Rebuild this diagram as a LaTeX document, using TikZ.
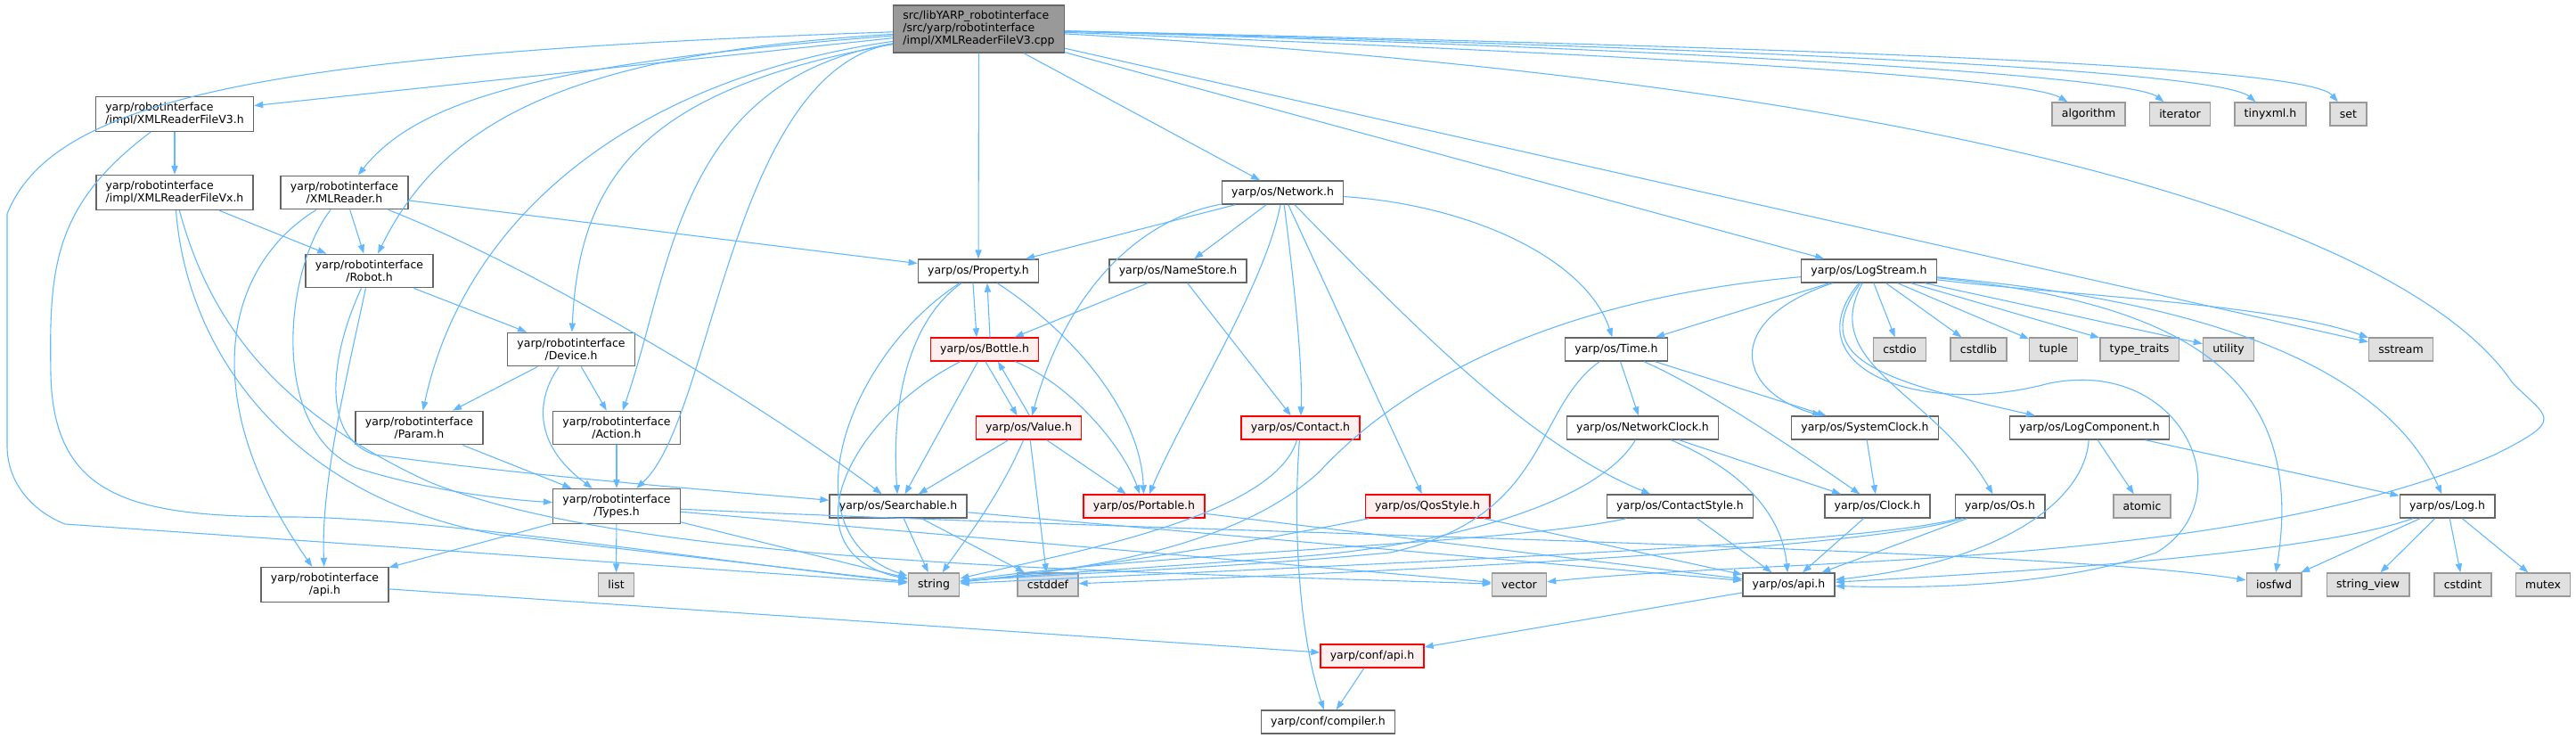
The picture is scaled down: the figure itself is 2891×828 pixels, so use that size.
\documentclass[tikz,border=0pt]{standalone}
\usepackage{fontspec}
\setsansfont{DejaVu Sans}
\usetikzlibrary{arrows.meta}
\definecolor{edgeblue}{HTML}{63B8FF}
\definecolor{boxgray}{HTML}{666666}
\definecolor{sysgray}{HTML}{999999}
\definecolor{sysfill}{HTML}{E0E0E0}
\definecolor{redfill}{HTML}{FFF0F0}

\begin{document}
\begin{tikzpicture}[x=0.5pt,y=-0.5pt,
  hfile/.style={draw=boxgray,fill=white,line width=0.7pt,inner xsep=5.4pt,inner ysep=3.2pt,
    minimum height=13pt,font=\sffamily\fontsize{6.25}{7}\selectfont,align=center},
  sysfile/.style={hfile,draw=sysgray,fill=sysfill},
  redfile/.style={hfile,draw=red,fill=redfill},
  rootfile/.style={hfile,fill=sysgray,align=left},
  dep/.style={draw=edgeblue,line width=0.55pt,-{Triangle[length=5pt,width=3.6pt]}}]
  \useasboundingbox (0,0) rectangle (2891,828);

  % robotinterface side
  \node[rootfile] (root) at (1098.5,32.5) {src/libYARP\_robotinterface\\/src/yarp/robotinterface\\/impl/XMLReaderFileV3.cpp};
  \node[hfile,align=left] (V3) at (196,128) {yarp/robotinterface\\/impl/XMLReaderFileV3.h};
  \node[hfile,align=left] (Vx) at (196,216) {yarp/robotinterface\\/impl/XMLReaderFileVx.h};
  \node[hfile] (XMLReader) at (386.5,216) {yarp/robotinterface\\/XMLReader.h};
  \node[hfile] (Robot) at (414.5,304) {yarp/robotinterface\\/Robot.h};
  \node[hfile] (Device) at (641,392) {yarp/robotinterface\\/Device.h};
  \node[hfile] (Param) at (470.5,480) {yarp/robotinterface\\/Param.h};
  \node[hfile] (Action) at (692,480) {yarp/robotinterface\\/Action.h};
  \node[hfile] (Types) at (692,568) {yarp/robotinterface\\/Types.h};
  \node[hfile] (riapi) at (364.5,656) {yarp/robotinterface\\/api.h};
  \node[sysfile] (list) at (691.5,656) {list};

  % yarp/os side
  \node[hfile] (Network) at (1439.5,216) {yarp/os/Network.h};
  \node[hfile] (Property) at (1098,304) {yarp/os/Property.h};
  \node[hfile] (NameStore) at (1322,304) {yarp/os/NameStore.h};
  \node[redfile] (Bottle) at (1105,392) {yarp/os/Bottle.h};
  \node[hfile] (Time) at (1814,392) {yarp/os/Time.h};
  \node[redfile] (Value) at (1154.5,480) {yarp/os/Value.h};
  \node[redfile] (Contact) at (1459.5,480) {yarp/os/Contact.h};
  \node[hfile] (NetworkClock) at (1843.5,480) {yarp/os/NetworkClock.h};
  \node[hfile] (Searchable) at (1008,568) {yarp/os/Searchable.h};
  \node[redfile] (Portable) at (1284,568) {yarp/os/Portable.h};
  \node[redfile] (QosStyle) at (1602,568) {yarp/os/QosStyle.h};
  \node[hfile] (ContactStyle) at (1885.5,568) {yarp/os/ContactStyle.h};
  \node[sysfile] (string) at (1048,656) {string};
  \node[sysfile] (cstddef) at (1176,656) {cstddef};
  \node[sysfile] (vector) at (1705,656) {vector};
  \node[redfile] (confapi) at (1540,736) {yarp/conf/api.h};
  \node[hfile] (compiler) at (1490.5,810) {yarp/conf/compiler.h};

  \node[hfile] (LogStream) at (2097.5,304) {yarp/os/LogStream.h};
  \node[sysfile] (algorithm) at (2344,128) {algorithm};
  \node[sysfile] (iterator) at (2446.5,128) {iterator};
  \node[sysfile] (tinyxml) at (2548,128) {tinyxml.h};
  \node[sysfile] (set) at (2635.5,128) {set};
  \node[sysfile] (cstdio) at (2132,392) {cstdio};
  \node[sysfile] (cstdlib) at (2220.5,392) {cstdlib};
  \node[sysfile] (tuple) at (2304.5,392) {tuple};
  \node[sysfile] (typetraits) at (2401,392) {type\_traits};
  \node[sysfile] (utility) at (2501,392) {utility};
  \node[sysfile] (sstream) at (2694.5,392) {sstream};
  \node[hfile] (SystemClock) at (2093,480) {yarp/os/SystemClock.h};
  \node[hfile] (LogComponent) at (2345,480) {yarp/os/LogComponent.h};
  \node[hfile] (Clock) at (2107,568) {yarp/os/Clock.h};
  \node[hfile] (Os) at (2244.5,568) {yarp/os/Os.h};
  \node[sysfile] (atomic) at (2404,568) {atomic};
  \node[hfile] (Log) at (2746.5,568) {yarp/os/Log.h};
  \node[hfile] (osapi) at (2007.5,656) {yarp/os/api.h};
  \node[sysfile] (iosfwd) at (2552,656) {iosfwd};
  \node[sysfile] (stringview) at (2657.6,656) {string\_view};
  \node[sysfile] (cstdint) at (2764,656) {cstdint};
  \node[sysfile] (mutex) at (2854,656) {mutex};

  % includes of the .cpp
  \draw[dep] (root) -- (V3);
  \draw[dep] (root) .. controls (620,70) and (470,110) .. (XMLReader);
  \draw[dep] (root) .. controls (650,60) and (500,130) .. (Robot);
  \draw[dep] (root) .. controls (700,90) and (520,250) .. (Param);
  \draw[dep] (root) .. controls (720,100) and (650,200) .. (Device);
  \draw[dep] (root) .. controls (760,90) and (755,300) .. (Action);
  \draw[dep] (root) .. controls (820,80) and (800,470) .. (Types);
  \draw[dep] (root) .. controls (300,60) and (60,110) .. (8,240) -- (8,500)
    .. controls (8,545) and (40,575) .. (73,588) -- (string);
  \draw[dep] (root) -- (Property);
  \draw[dep] (root) -- (Network);
  \draw[dep] (root) -- (LogStream);
  \draw[dep] (root) .. controls (1800,60) and (2270,85) .. (algorithm);
  \draw[dep] (root) .. controls (1900,55) and (2390,85) .. (iterator);
  \draw[dep] (root) .. controls (2000,55) and (2490,80) .. (tinyxml);
  \draw[dep] (root) .. controls (2100,55) and (2590,75) .. (set);
  \draw[dep] (root) -- (sstream);
  \draw[dep] (root) .. controls (2300,100) and (2720,280) .. (2820,430)
    .. controls (2860,470) and (2880,470) .. (2800,510)
    .. controls (2500,640) and (2000,625) .. (vector);

  % robotinterface headers
  \draw[dep] (V3) -- (Vx);
  \draw[dep] (V3) .. controls (60,230) and (55,300) .. (57,420)
    .. controls (60,560) and (150,580) .. (330,580) .. controls (500,582) and (800,630) .. (string);
  \draw[dep] (Vx) -- (Robot);
  \draw[dep] (Vx) .. controls (210,400) and (330,560) .. (560,600) -- (string);
  \draw[dep] (Vx) .. controls (240,380) and (330,470) .. (480,540)
    .. controls (700,630) and (1200,640) .. (vector);
  \draw[dep] (XMLReader) -- (Robot);
  \draw[dep] (XMLReader) -- (Property);
  \draw[dep] (XMLReader) .. controls (600,300) and (850,450) .. (Searchable);
  \draw[dep] (XMLReader) .. controls (250,300) and (220,450) .. (riapi);
  \draw[dep] (XMLReader) .. controls (320,300) and (300,480) .. (400,525)
    .. controls (480,550) and (560,560) .. (Types);
  \draw[dep] (Robot) -- (Device);
  \draw[dep] (Robot) .. controls (390,420) and (360,540) .. (riapi);
  \draw[dep] (Robot) .. controls (370,400) and (360,490) .. (420,510)
    .. controls (600,535) and (800,550) .. (Searchable);
  \draw[dep] (Device) -- (Param);
  \draw[dep] (Device) -- (Action);
  \draw[dep] (Device) .. controls (600,450) and (600,500) .. (Types);
  \draw[dep] (Param) -- (Types);
  \draw[dep] (Action) -- (Types);
  \draw[dep] (Types) -- (riapi);
  \draw[dep] (Types) -- (list);
  \draw[dep] (Types) -- (string);
  \draw[dep] (Types) -- (vector);
  \draw[dep] (Types) .. controls (1400,600) and (2300,615) .. (iosfwd);
  \draw[dep] (riapi) -- (confapi);

  % yarp/os headers
  \draw[dep] ([xshift=-3pt]Property.south) -- ([xshift=-4.5pt]Bottle.north);
  \draw[dep] ([xshift=3pt]Bottle.north) -- ([xshift=5pt]Property.south);
  \draw[dep] (Property) .. controls (1020,360) and (1000,450) .. (Searchable);
  \draw[dep] (Property) .. controls (1200,370) and (1280,460) .. (Portable);
  \draw[dep] (Property) .. controls (950,400) and (880,600) .. (string);
  \draw[dep] ([xshift=0.5pt]Bottle.south) -- ([xshift=-6.5pt]Value.north);
  \draw[dep] ([xshift=0.5pt]Value.north) -- ([xshift=7.5pt]Bottle.south);
  \draw[dep] (Bottle) -- (Searchable);
  \draw[dep] (Bottle) .. controls (1200,430) and (1260,500) .. (Portable);
  \draw[dep] (Bottle) .. controls (950,470) and (880,620) .. (string);
  \draw[dep] (Value) -- (Searchable);
  \draw[dep] (Value) -- (Portable);
  \draw[dep] (Value) .. controls (1120,560) and (1080,610) .. (string);
  \draw[dep] (Value) -- (cstddef);
  \draw[dep] (Searchable) -- (string);
  \draw[dep] (Searchable) -- (cstddef);
  \draw[dep] (Searchable) -- (osapi);
  \draw[dep] (Portable) -- (osapi);

  \draw[dep] (Network) -- (Property);
  \draw[dep] (Network) -- (NameStore);
  \draw[dep] (Network) .. controls (1260,250) and (1190,350) .. (Value);
  \draw[dep] (Network) .. controls (1420,320) and (1330,460) .. (Portable);
  \draw[dep] (Network) .. controls (1450,300) and (1462,400) .. (Contact);
  \draw[dep] (Network) -- (QosStyle);
  \draw[dep] (Network) .. controls (1600,380) and (1720,500) .. (ContactStyle);
  \draw[dep] (Network) .. controls (1650,230) and (1780,290) .. (Time);
  \draw[dep] (NameStore) -- (Bottle);
  \draw[dep] (NameStore) -- (Contact);
  \draw[dep] (Contact) .. controls (1430,580) and (1200,620) .. (string);
  \draw[dep] (Contact) .. controls (1450,600) and (1460,720) .. (compiler);
  \draw[dep] (QosStyle) .. controls (1400,610) and (1200,640) .. (string);
  \draw[dep] (QosStyle) -- (osapi);
  \draw[dep] (ContactStyle) .. controls (1700,610) and (1300,620) .. (string);
  \draw[dep] (ContactStyle) -- (osapi);

  \draw[dep] (Time) -- (NetworkClock);
  \draw[dep] (Time) .. controls (1720,460) and (1740,580) .. (1560,620)
    .. controls (1350,640) and (1150,645) .. (string);
  \draw[dep] (Time) -- (SystemClock);
  \draw[dep] (Time) .. controls (1900,430) and (1980,480) .. (Clock);
  \draw[dep] (NetworkClock) -- (Clock);
  \draw[dep] (NetworkClock) .. controls (1960,530) and (2000,580) .. (osapi);
  \draw[dep] (NetworkClock) .. controls (1790,570) and (1600,615) .. (1450,625)
    .. controls (1250,640) and (1150,645) .. (string);
  \draw[dep] (SystemClock) -- (Clock);
  \draw[dep] (Clock) -- (osapi);
  \draw[dep] (Os) -- (osapi);
  \draw[dep] (Os) .. controls (2100,610) and (1600,630) .. (string);
  \draw[dep] (Os) .. controls (2100,615) and (1600,640) .. (cstddef);

  \draw[dep] (LogStream) -- (Time);
  \draw[dep] (LogStream) .. controls (1930,360) and (1950,440) .. (SystemClock);
  \draw[dep] (LogStream) .. controls (1800,330) and (1600,400) .. (1480,530)
    .. controls (1380,620) and (1200,640) .. (string);
  \draw[dep] (LogStream) .. controls (2040,410) and (2170,440) .. (Os);
  \draw[dep] (LogStream) .. controls (2030,400) and (2100,425) .. (LogComponent);
  \draw[dep] (LogStream) .. controls (2010,410) and (2150,470) .. (2300,430)
    .. controls (2450,400) and (2520,560) .. (2420,620) .. controls (2300,660) and (2150,660) .. (osapi);
  \draw[dep] (LogStream) -- (cstdio);
  \draw[dep] (LogStream) -- (cstdlib);
  \draw[dep] (LogStream) -- (tuple);
  \draw[dep] (LogStream) -- (typetraits);
  \draw[dep] (LogStream) -- (utility);
  \draw[dep] (LogStream) .. controls (2300,330) and (2550,340) .. (sstream);
  \draw[dep] (LogStream) .. controls (2450,340) and (2590,420) .. (iosfwd);
  \draw[dep] (LogStream) .. controls (2500,340) and (2680,420) .. (Log);
  \draw[dep] (LogComponent) -- (atomic);
  \draw[dep] (LogComponent) -- (Log);
  \draw[dep] (LogComponent) .. controls (2340,560) and (2250,630) .. (osapi);
  \draw[dep] (Log) .. controls (2600,620) and (2300,640) .. (osapi);
  \draw[dep] (Log) -- (iosfwd);
  \draw[dep] (Log) -- (stringview);
  \draw[dep] (Log) -- (cstdint);
  \draw[dep] (Log) -- (mutex);
  \draw[dep] (osapi) -- (confapi);
  \draw[dep] (confapi) -- (compiler);
\end{tikzpicture}
\end{document}
